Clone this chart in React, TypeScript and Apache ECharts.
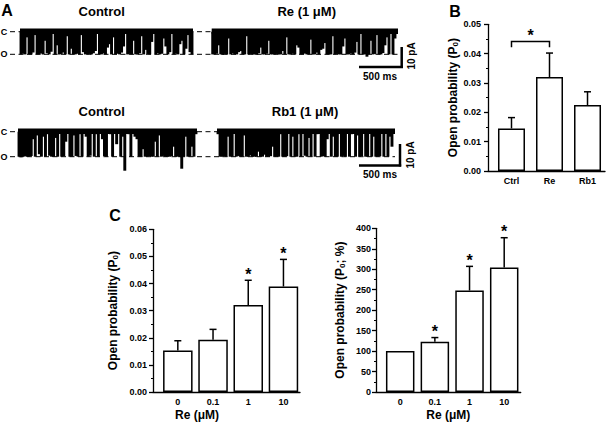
import React, { useEffect, useRef } from "react";
import * as echarts from "echarts";

const FONT = "Arial, 'Liberation Sans', sans-serif";

// Panel A: single-channel trace depths per time bin (% of unitary opening)
const ctrlTraceA = [100,97,100,25,100,100,92,15,100,100,96,100,40,95,100,88,0,100,60,100,98,92,100,20,100,75,100,100,97,100,15,90,100,100,98,100,95,85,10,100,100,96,100,70,55,100,25,100,97,100,92,65,10,100,98,100,40,100,100,95,20,100,80,98,100,45,5,100,95,100,97,30,65,100,90,10,100,97,100,55,40,100,75,15,90,100];
const reTrace = [100,100,97,60,100,102,98,100,30,100,96,100,100,90,85,100,100,20,100,98,100,100,102,95,70,100,100,97,40,100,100,100,98,100,100,85,100,25,100,100,97,100,60,70,100,100,96,100,100,35,100,100,92,100,80,75,50,100,100,100,20,100,98,100,100,65,30,100,100,96,100,92,45,100,10,100,100,110,100,40,100,98,15,100,100,94,60,25,100,0,100,30,0];
const ctrlTraceB = [100,102,100,98,100,100,97,30,100,15,90,100,20,100,10,96,100,100,25,100,5,100,98,40,0,100,100,15,97,100,10,100,0,20,100,96,0,100,10,100,0,30,98,100,0,10,100,0,50,0,100,20,156,0,10,100,0,20,30,100,100,70,100,100,98,100,100,40,100,15,100,97,100,100,100,98,60,100,100,102,148,100,20,100,100,60,100,10];
const rb1Trace = [10,100,100,98,100,20,100,100,0,100,97,100,100,15,100,100,95,100,100,100,80,100,100,92,100,100,98,60,100,100,100,10,100,100,98,0,100,20,100,100,10,100,0,96,100,25,100,0,100,10,0,100,98,100,30,0,100,20,100,100,0,100,97,100,0,100,10,0,100,15,100,98,0,100,100,0,100,20,100,100,98,0,100,0,100,20,60,0];
const traceTitles = ["Control", "Re (1 μM)", "Control", "Rb1 (1 μM)"];

// Panel B
const bCats = ["Ctrl", "Re", "Rb1"];
const bVals = [0.0145, 0.032, 0.0225];
const bSem = [0.0037, 0.0082, 0.0045];
const bSigPair = [0, 1];
const bSigLevel = 0.0441;

// Panel C
const cCats = ["0", "0.1", "1", "10"];
const cLeftVals = [0.0153, 0.0193, 0.0321, 0.0389];
const cLeftSem = [0.0036, 0.0038, 0.0091, 0.01];
const cLeftStar = [false, false, true, true];
const cRightVals = [100, 123, 248, 304];
const cRightSem = [0, 10, 59, 73];
const cRightStar = [false, true, true, true];

const traces = [ctrlTraceA, reTrace, ctrlTraceB, rb1Trace];
const traceGrids = [
  { left: 20, width: 173, top: 22.6, height: 50 },
  { left: 211.7, width: 186.3, top: 22.6, height: 50 },
  { left: 18, width: 179, top: 121.7, height: 55 },
  { left: 217, width: 178, top: 121.7, height: 55 },
];

const axisColor = "#000";
const lineStyle = { color: axisColor, width: 1.3 };

function errRender(params: any, api: any) {
  const x = api.value(0);
  const v = api.value(1);
  const s = api.value(2);
  if (!s) return { type: "group", children: [] };
  const p0 = api.coord([x, v]);
  const p1 = api.coord([x, v + s]);
  return {
    type: "group",
    children: [
      { type: "line", shape: { x1: p0[0], y1: p0[1], x2: p1[0], y2: p1[1] }, style: { stroke: "#000", lineWidth: 1.5 } },
      { type: "line", shape: { x1: p1[0] - 3.5, y1: p1[1], x2: p1[0] + 3.5, y2: p1[1] }, style: { stroke: "#000", lineWidth: 1.5 } },
    ],
  };
}

function starRender(params: any, api: any) {
  const p = api.coord([api.value(0), api.value(1)]);
  return {
    type: "text",
    x: p[0],
    y: p[1] - 6,
    style: { text: "*", fontSize: 16, fontWeight: "bold", fontFamily: FONT, align: "center", verticalAlign: "middle", fill: "#000" },
  };
}

function bracketRender(params: any, api: any) {
  const a = api.coord([api.value(0), api.value(2)]);
  const b = api.coord([api.value(1), api.value(2)]);
  return {
    type: "group",
    children: [
      {
        type: "polyline",
        shape: { points: [[a[0], a[1] + 5.6], [a[0], a[1]], [b[0], b[1]], [b[0], b[1] + 5.6]] },
        style: { stroke: "#000", lineWidth: 1.5, fill: "none" },
      },
      {
        type: "text",
        x: (a[0] + b[0]) / 2,
        y: a[1] - 6,
        style: { text: "*", fontSize: 16, fontWeight: "bold", fontFamily: FONT, align: "center", verticalAlign: "middle", fill: "#000" },
      },
    ],
  };
}

const nameRich = {
  sub: { fontSize: 8, fontWeight: "bold", fontFamily: FONT, color: "#000", verticalAlign: "bottom", padding: [5, 0, 0, 0] },
};

function barYAxis(gridIndex: number, max: number, interval: number, fmt: (v: number) => string, name: string, nameGap: number, labelMargin: number) {
  return {
    gridIndex,
    type: "value",
    min: 0,
    max,
    interval,
    axisLine: { show: true, onZero: false, lineStyle },
    axisTick: { show: true, length: 4, lineStyle },
    minorTick: { show: true, splitNumber: 2, length: 2, lineStyle: { color: "#000", width: 1 } },
    splitLine: { show: false },
    axisLabel: { formatter: fmt, color: "#000", fontSize: 9, fontWeight: "bold", fontFamily: FONT, margin: labelMargin },
    name,
    nameLocation: "middle",
    nameRotate: 90,
    nameGap,
    nameTextStyle: { fontSize: 12, fontWeight: "bold", fontFamily: FONT, color: "#000", rich: nameRich },
  };
}

function barXAxis(gridIndex: number, min: number, max: number, cats: string[], name?: string, namePad?: number[]) {
  return {
    gridIndex,
    type: "value",
    min,
    max,
    axisLine: { show: true, onZero: false, lineStyle },
    axisTick: { show: false },
    splitLine: { show: false },
    axisLabel: {
      customValues: cats.map((_, i) => i),
      formatter: (v: number) => cats[Math.round(v)],
      color: "#000",
      fontSize: 9,
      fontWeight: "bold",
      fontFamily: FONT,
      margin: 5,
    },
    name: name || "",
    nameLocation: "middle",
    nameGap: 17,
    nameTextStyle: { fontSize: 12, fontWeight: "bold", fontFamily: FONT, color: "#000", padding: namePad || [0, 0, 0, 0] },
  };
}

function barSeries(axisIndex: number, vals: number[], width: number) {
  return {
    type: "bar",
    xAxisIndex: axisIndex,
    yAxisIndex: axisIndex,
    data: vals.map((v, i) => [i, v]),
    barWidth: width,
    itemStyle: { color: "#fff", borderColor: "#000", borderWidth: 1.5 },
    z: 2,
  };
}

function errSeries(axisIndex: number, vals: number[], sem: number[]) {
  return {
    type: "custom",
    xAxisIndex: axisIndex,
    yAxisIndex: axisIndex,
    data: vals.map((v, i) => [i, v, sem[i]]),
    renderItem: errRender,
    z: 3,
  };
}

function starSeries(axisIndex: number, vals: number[], sem: number[], star: boolean[]) {
  return {
    type: "custom",
    xAxisIndex: axisIndex,
    yAxisIndex: axisIndex,
    data: vals.map((v, i) => [i, v + sem[i]]).filter((_, i) => star[i]),
    renderItem: starRender,
    z: 4,
  };
}

function txt(x: number, y: number, text: string, size: number, bold = true, rotation = 0) {
  return {
    type: "text",
    x,
    y,
    rotation,
    style: { text, fontSize: size, fontWeight: bold ? "bold" : "normal", fontFamily: FONT, fill: "#000", align: "center", verticalAlign: "middle" },
  };
}

function ln(x1: number, y1: number, x2: number, y2: number, w: number, dash?: number[]) {
  return { type: "line", shape: { x1, y1, x2, y2 }, style: { stroke: "#000", lineWidth: w, lineDash: dash } };
}

export default function App() {
  const ref = useRef<HTMLDivElement>(null);
  useEffect(() => {
    if (!ref.current) return;
    const chart = echarts.init(ref.current, null, { renderer: "svg" });

    const grids: any[] = traceGrids.map((g) => ({ ...g, outerBoundsMode: "none", containLabel: false }));
    grids.push({ left: 488, top: 24.3, width: 117, height: 146.7, outerBoundsMode: "none" });
    grids.push({ left: 153, top: 229.3, width: 147, height: 162.7, outerBoundsMode: "none" });
    grids.push({ left: 376, top: 228.3, width: 144.7, height: 163.7, outerBoundsMode: "none" });

    const xAxes: any[] = traces.map((t, k) => ({ gridIndex: k, type: "value", min: 0, max: t.length, show: false }));
    const yAxes: any[] = traces.map((t, k) => ({ gridIndex: k, type: "value", min: -1.8, max: 0.4, show: false }));

    xAxes.push(barXAxis(4, -0.618, 2.46, bCats));
    yAxes.push(barYAxis(4, 0.05, 0.01, (v) => v.toFixed(2), "Open probability (P{sub|0})", 29, 7));
    xAxes.push(barXAxis(5, -0.705, 3.47, cCats, "Re (μM)", [0, 59, 0, 0]));
    yAxes.push(barYAxis(5, 0.06, 0.01, (v) => v.toFixed(2), "Open probability (P{sub|0})", 34, 6));
    xAxes.push(barXAxis(6, -0.698, 3.476, cCats, "Re (μM)"));
    yAxes.push(barYAxis(6, 400, 50, (v) => String(v), "Open probability (P{sub|0}; %)", 30, 5));

    const series: any[] = [];
    traces.forEach((t, k) => {
      series.push({
        type: "bar",
        xAxisIndex: k,
        yAxisIndex: k,
        data: t.map((d, i) => [i + 0.5, -d / 100]),
        barWidth: traceGrids[k].width / t.length + 0.9,
        itemStyle: { color: "#000" },
        z: 3,
      });
      series.push({
        type: "line",
        xAxisIndex: k,
        yAxisIndex: k,
        data: [[0, 0.02], [t.length, 0.02]],
        symbol: "none",
        lineStyle: { color: "#000", width: 5.5 },
        z: 3,
      });
    });

    series.push(barSeries(4, bVals, 27));
    series.push(errSeries(4, bVals, bSem));
    series.push({
      type: "custom",
      xAxisIndex: 4,
      yAxisIndex: 4,
      data: [[bSigPair[0], bSigPair[1], bSigLevel]],
      renderItem: bracketRender,
      z: 4,
    });
    series.push(barSeries(5, cLeftVals, 29.5));
    series.push(errSeries(5, cLeftVals, cLeftSem));
    series.push(starSeries(5, cLeftVals, cLeftSem, cLeftStar));
    series.push(barSeries(6, cRightVals, 28.5));
    series.push(errSeries(6, cRightVals, cRightSem));
    series.push(starSeries(6, cRightVals, cRightSem, cRightStar));

    const dash = [5, 3.5];
    const graphics: any[] = [
      txt(7, 10, "A", 16),
      txt(455, 11, "B", 16),
      txt(115, 215, "C", 16),
      txt(101.7, 11.7, traceTitles[0], 13),
      txt(306.7, 11.7, traceTitles[1], 13),
      txt(101.7, 111.7, traceTitles[2], 13),
      txt(305, 111.7, traceTitles[3], 13),
      txt(4, 31.7, "C", 9),
      txt(4, 54.3, "O", 9),
      txt(4, 131.7, "C", 9),
      txt(4, 156.7, "O", 9),
      ln(10, 31.7, 398, 31.7, 1, dash),
      ln(10, 54.3, 398, 54.3, 1, dash),
      ln(10, 131.7, 395, 131.7, 1, dash),
      ln(10, 156.7, 395, 156.7, 1, dash),
      ln(401.7, 47, 401.7, 68, 2.5),
      ln(359, 67, 403, 67, 2.5),
      txt(411, 56, "10 pA", 10, true, Math.PI / 2),
      txt(380, 76.5, "500 ms", 10),
      ln(400, 144, 400, 166.5, 2.5),
      ln(359, 165.5, 401.2, 165.5, 2.5),
      txt(410, 155, "10 pA", 10, true, Math.PI / 2),
      txt(380, 174, "500 ms", 10),
    ];

    chart.setOption({
      animation: false,
      textStyle: { fontFamily: FONT },
      grid: grids,
      xAxis: xAxes,
      yAxis: yAxes,
      series,
      graphic: { elements: graphics },
    });
    return () => chart.dispose();
  }, []);
  return <div ref={ref} style={{ position: "absolute", left: 0, top: 0, width: 606, height: 423, background: "#fff" }} />;
}
